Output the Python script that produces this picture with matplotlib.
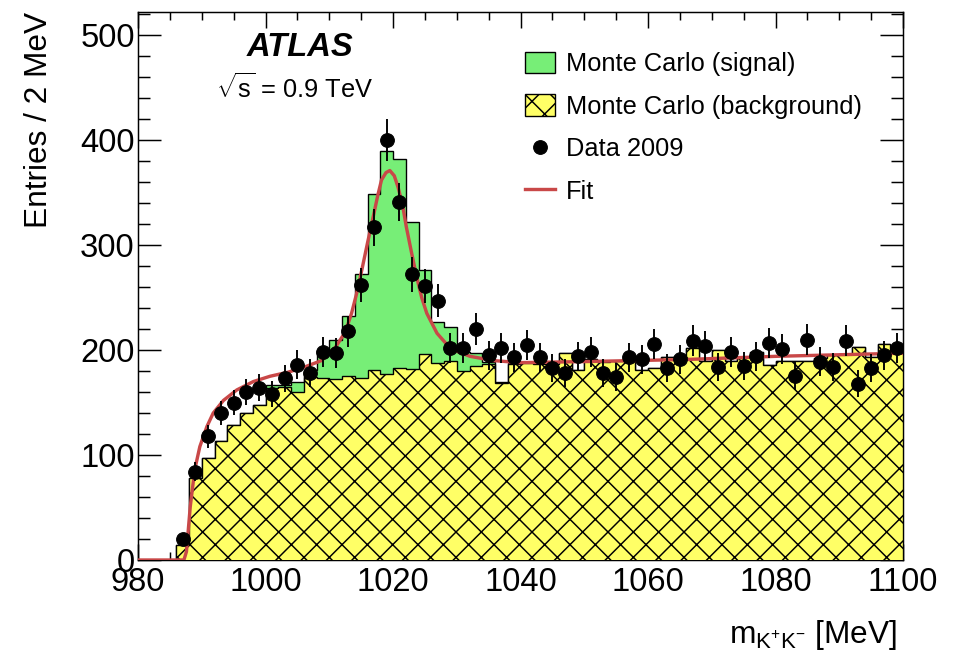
import numpy as np
import matplotlib
matplotlib.use("Agg")
import matplotlib.pyplot as plt
from matplotlib.patches import Patch
from matplotlib.lines import Line2D

# bin edges: 2 MeV bins from 980 to 1100
edges = np.arange(980, 1101, 2)
centers = edges[:-1] + 1

# MC background (yellow, hatched)
mc_bkg = [0, 0, 0, 14, 78, 97, 113, 129, 140, 148,
          164, 165, 160, 174, 173, 172, 175, 173, 181, 177,
          183, 182, 196, 188, 190, 180, 185, 187, 169, 187,
          188, 187, 187, 197, 181, 191, 189, 190, 190, 181,
          183, 193, 194, 202, 190, 200, 190, 193, 198, 186,
          190, 190, 190, 192, 195, 196, 203, 193, 206, 199]

# MC signal + background stacked top (green)
mc_total = [0, 0, 0, 14, 78, 97, 113, 129, 140, 148,
            167, 167, 170, 181, 200, 210, 232, 272, 349, 390,
            382, 322, 276, 227, 222, 198, 197, 189, 170, 188,
            188, 187, 187, 197, 181, 191, 189, 190, 190, 181,
            183, 193, 194, 202, 190, 200, 190, 193, 198, 186,
            190, 190, 190, 192, 195, 196, 203, 193, 206, 199]

# Data 2009
data = [0, 0, 0, 20, 84, 118, 140, 150, 160, 164,
        158, 173, 186, 178, 198, 197, 218, 262, 317, 400,
        341, 272, 261, 247, 202, 202, 220, 195, 202, 193,
        205, 193, 183, 178, 194, 198, 178, 174, 193, 191,
        206, 183, 191, 209, 204, 184, 198, 185, 194, 207,
        201, 175, 210, 189, 184, 209, 168, 183, 195, 202]

# fit curve
fit_x = [980, 987.2, 987.6, 988.2, 988.9, 989.7, 990.8, 991.8, 993.4, 995.5,
         998.1, 1000.7, 1003.6, 1006.2, 1008.8, 1010.9, 1012.5, 1013.5, 1014.3,
         1015.1, 1016.0, 1016.9, 1017.6, 1018.2, 1018.9, 1019.5, 1020.2, 1020.8,
         1021.5, 1022.1, 1022.9, 1023.7, 1024.5, 1025.3, 1026.9, 1028.2, 1029.5,
         1032.1, 1035.7, 1039.9, 1050, 1066, 1080, 1100]
fit_y = [0, 0, 8, 51, 86, 108, 127, 140, 152, 162,
         170, 175, 179, 184, 190, 202, 217, 235, 254,
         276, 302, 327, 347, 362, 369, 371, 366, 355,
         338, 317, 293, 270, 250, 235, 216, 207, 200,
         194, 190, 188, 189, 191, 194, 197]

DPI = 76
plt.rcParams["font.family"] = ["Liberation Sans", "DejaVu Sans"]
plt.rcParams["mathtext.fontset"] = "custom"
plt.rcParams["mathtext.rm"] = "Liberation Sans"
plt.rcParams["mathtext.it"] = "Liberation Sans:italic"
plt.rcParams["hatch.linewidth"] = 1.4

fig = plt.figure(figsize=(959 / DPI, 653 / DPI), dpi=DPI)
ax = fig.add_axes([138 / 959, 1 - 560 / 653, 765 / 959, 548 / 653])

green = "#77ee77"
yellow = "#ffff66"
red = "#c94848"

ax.stairs(mc_total, edges, fill=True, facecolor=green, edgecolor="black",
          linewidth=1.3, zorder=2)
ax.stairs(mc_bkg, edges, fill=True, facecolor=yellow, edgecolor="black",
          hatch="x", linewidth=1.3, zorder=3)

ax.plot(fit_x, fit_y, color=red, linewidth=3.2, zorder=4)

data = np.array(data)
mask = data > 0
ax.errorbar(centers[mask], data[mask], yerr=np.sqrt(data[mask]), fmt="o",
            color="black", markersize=13, elinewidth=1.8, capsize=0, zorder=5)

ax.set_xlim(980, 1100)
ax.set_ylim(0, 522)
ax.set_xticks(np.arange(980, 1101, 20))
ax.set_xticks(np.arange(980, 1101, 5), minor=True)
ax.set_yticks(np.arange(0, 501, 100))
ax.set_yticks(np.arange(0, 521, 20), minor=True)
ax.tick_params(axis="both", which="both", direction="in", top=True, right=True,
               width=1.4, labelsize=31)
ax.tick_params(axis="x", which="major", length=15, pad=7)
ax.tick_params(axis="x", which="minor", length=7.5)
ax.tick_params(axis="y", which="major", length=22, pad=3)
ax.tick_params(axis="y", which="minor", length=11)
for s in ax.spines.values():
    s.set_linewidth(1.4)

ax.set_ylabel("Entries / 2 MeV", fontsize=30, loc="top", labelpad=25)
ax.set_xlabel(r"$\mathrm{m_{K^{+}K^{-}}}$ [MeV]", fontsize=30, loc="right")
ax.xaxis.set_label_coords(1 - 6 / 765, -58 / 548)

fig.text(300 / 959, 1 - 48 / 653, "ATLAS", fontsize=31, fontweight="bold",
         fontstyle="italic", ha="center", va="center")
fig.text(295 / 959, 1 - 88 / 653, r"$\sqrt{\mathrm{s}}$ = 0.9 TeV", fontsize=24,
         ha="center", va="center")

handles = [
    Patch(facecolor=green, edgecolor="black", linewidth=1.3),
    Patch(facecolor=yellow, edgecolor="black", hatch="x", linewidth=1.3),
    Line2D([], [], marker="o", color="black", linestyle="none", markersize=13),
    Line2D([], [], color=red, linewidth=3.2),
]
labels = ["Monte Carlo (signal)", "Monte Carlo (background)", "Data 2009", "Fit"]
ax.legend(handles, labels, loc="upper left", bbox_to_anchor=(525 / 959, 1 - 52 / 653),
          bbox_transform=fig.transFigure, frameon=False, fontsize=24,
          handlelength=1.2, handleheight=0.9, handletextpad=0.4,
          labelspacing=0.72, borderpad=0, borderaxespad=0)

fig.savefig("out.png", dpi=DPI)
